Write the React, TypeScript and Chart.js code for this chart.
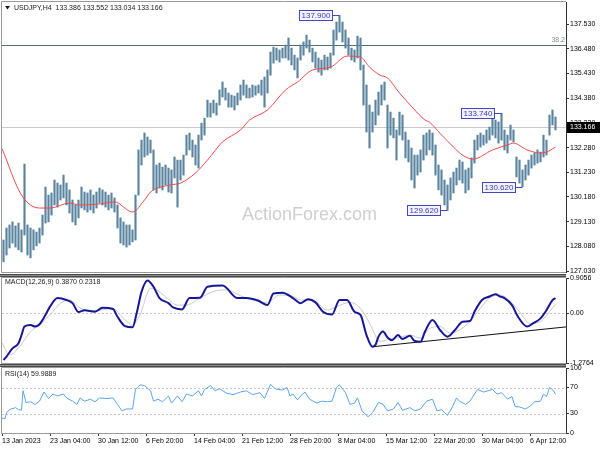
import React, { useEffect, useRef } from "react";
import { Chart, registerables } from "chart.js";

Chart.register(...registerables);

const FONT = "'Liberation Sans', Arial, sans-serif";

// ---------- price bars: each entry covers two H4 bars, x = bar number (2k+1) ----------
const HIGH = [
  128.35, 128.86, 128.99, 129.12, 128.95, 129.07, 128.78, 131.58, 128.99, 128.86,
  128.78, 128.69, 128.86, 129.41, 130.60, 130.26, 130.35, 130.90, 130.77, 130.69,
  131.11, 130.77, 130.48, 130.05, 129.84, 130.05, 130.60, 130.39, 130.35, 130.48,
  130.26, 130.39, 130.56, 130.48, 130.39, 130.26, 130.35, 130.14, 129.84, 129.29,
  129.12, 128.99, 128.99, 128.78, 130.26, 132.18, 132.60, 132.90, 132.73, 132.60,
  132.18, 131.54, 131.62, 131.45, 131.54, 131.41, 131.33, 131.88, 131.75, 131.75,
  131.96, 132.81, 132.90, 132.60, 132.39, 132.81, 133.32, 133.53, 134.30, 134.17,
  134.30, 134.17, 134.73, 135.07, 134.81, 134.60, 134.51, 134.47, 134.60, 134.94,
  135.15, 134.94, 134.81, 134.94, 134.90, 134.94, 135.15, 135.28, 135.58, 136.34,
  136.55, 136.51, 136.43, 136.51, 136.64, 136.94, 136.51, 136.21, 136.09, 136.64,
  136.77, 137.06, 136.85, 136.51, 136.34, 136.09, 136.00, 136.21, 136.13, 136.30,
  137.28, 137.62, 137.90, 137.62, 137.28, 136.94, 136.51, 136.43, 137.02, 136.94,
  135.79, 134.94, 134.09, 133.79, 134.30, 134.64, 134.94, 135.07, 134.09, 133.79,
  133.53, 133.03, 133.79, 133.66, 132.94, 132.60, 132.26, 131.96, 131.96, 132.18,
  132.81, 132.90, 133.03, 132.90, 132.39, 131.54, 131.33, 130.90, 130.69, 130.99,
  131.24, 131.41, 131.75, 131.67, 131.33, 131.41, 131.84, 132.60, 132.81, 132.90,
  132.81, 133.03, 133.15, 133.74, 133.45, 133.37, 133.74, 133.03, 132.81, 133.24,
  133.03, 131.88, 131.75, 131.33, 131.54, 131.75, 131.96, 132.05, 132.18, 132.09,
  132.81, 132.60, 133.66, 133.88, 133.58,
];
const LOW = [
  127.42, 127.71, 128.01, 128.22, 128.05, 127.93, 127.84, 128.56, 127.71, 127.59,
  127.93, 128.10, 128.22, 128.56, 129.07, 129.12, 129.41, 129.84, 129.75, 130.05,
  130.14, 129.84, 129.50, 129.12, 128.99, 129.29, 129.71, 129.63, 129.54, 129.63,
  129.50, 129.71, 129.92, 129.84, 129.75, 129.63, 129.71, 129.54, 128.86, 128.22,
  128.14, 128.05, 128.14, 128.27, 128.35, 130.26, 131.54, 131.88, 131.96, 132.05,
  130.48, 130.35, 130.56, 130.48, 130.69, 130.39, 130.35, 130.99, 129.75, 130.90,
  131.11, 131.96, 132.18, 131.88, 131.54, 131.41, 132.60, 132.81, 133.58, 133.58,
  133.75, 133.66, 134.09, 134.43, 134.30, 134.00, 134.00, 133.88, 134.09, 134.30,
  134.51, 134.39, 134.39, 134.43, 134.51, 134.60, 134.51, 134.00, 134.60, 135.36,
  135.87, 136.00, 135.92, 136.09, 136.09, 136.00, 135.79, 135.58, 135.24, 136.00,
  136.21, 136.51, 136.34, 135.92, 135.66, 135.49, 135.36, 135.58, 135.58, 135.66,
  136.21, 136.85, 137.19, 136.77, 136.51, 136.21, 136.00, 135.92, 136.09, 135.58,
  134.09, 132.94, 132.26, 132.94, 133.24, 133.66, 134.09, 134.30, 132.26, 132.81,
  132.69, 131.75, 132.81, 132.60, 131.84, 131.67, 130.90, 130.56, 131.11, 131.24,
  131.75, 131.96, 132.18, 131.96, 131.11, 130.48, 130.26, 129.84, 129.62, 130.05,
  130.35, 130.69, 130.90, 130.77, 130.35, 130.48, 130.99, 131.62, 132.18, 132.30,
  132.39, 132.47, 132.60, 132.81, 132.69, 132.47, 132.60, 132.18, 132.05, 132.60,
  132.52, 131.03, 130.77, 130.62, 130.90, 131.11, 131.41, 131.54, 131.62, 131.67,
  131.88, 131.96, 132.81, 133.24, 133.03,
];

// ---------- moving average (red) ----------
const MA_X = [0, 13, 25, 32, 45, 52, 65, 75, 87, 95, 99, 112, 119, 129, 137, 147, 159, 165, 177, 189, 197, 207, 219, 230, 239, 245, 252, 257, 265, 274, 282, 285, 292, 301, 307, 314, 327, 337, 341, 350, 359, 363, 369];
const MA_Y = [132.24, 130.26, 129.71, 129.71, 129.92, 129.84, 129.88, 129.97, 129.54, 130.05, 130.39, 130.69, 130.77, 131.20, 131.75, 132.52, 133.03, 133.45, 133.88, 134.73, 135.07, 135.58, 135.70, 136.17, 136.13, 135.70, 135.36, 135.24, 134.60, 133.96, 133.45, 133.36, 132.89, 132.30, 131.96, 131.79, 132.18, 132.39, 132.47, 132.18, 132.05, 132.09, 132.30];

// ---------- MACD ----------
const MACD_X = [1, 3, 7, 11, 13, 15, 19, 22, 25, 29, 32, 37, 43, 47, 51, 55, 62, 67, 74, 77, 82, 87, 90, 93, 97, 101, 105, 111, 114, 120, 125, 132, 137, 147, 157, 163, 171, 177, 181, 187, 194, 199, 204, 209, 214, 220, 225, 230, 235, 239, 243, 247, 249, 251, 254, 257, 260, 264, 267, 272, 275, 279, 282, 287, 292, 297, 302, 307, 312, 315, 320, 325, 329, 332, 335, 340, 344, 350, 354, 359, 363, 367, 369];
const MACD_MAIN = [-1.20, -1.11, -0.90, -0.77, -0.56, -0.34, -0.30, -0.34, -0.28, -0.04, 0.17, 0.39, 0.34, 0.26, 0.03, 0.08, 0.04, 0.14, 0.11, -0.09, -0.33, -0.36, 0.04, 0.55, 0.84, 0.68, 0.39, 0.26, 0.15, 0.10, 0.39, 0.40, 0.68, 0.71, 0.39, 0.39, 0.32, 0.21, 0.51, 0.53, 0.39, 0.26, 0.36, 0.28, 0.04, -0.03, 0.34, 0.34, 0.04, -0.04, -0.56, -0.86, -0.81, -0.60, -0.47, -0.62, -0.69, -0.56, -0.66, -0.58, -0.71, -0.73, -0.47, -0.17, -0.43, -0.60, -0.43, -0.22, -0.20, 0.04, 0.34, 0.43, 0.49, 0.43, 0.39, 0.21, -0.09, -0.34, -0.26, -0.13, 0.08, 0.34, 0.39];
const SIGNAL_X = [0, 5, 12, 19, 25, 32, 39, 45, 52, 59, 65, 74, 81, 87, 92, 99, 103, 110, 117, 123, 132, 141, 150, 159, 167, 177, 185, 194, 199, 207, 217, 223, 232, 239, 245, 252, 259, 265, 272, 279, 285, 292, 299, 305, 312, 319, 325, 332, 339, 345, 352, 359, 365, 369];
const SIGNAL = [-0.76, -1.07, -0.84, -0.47, -0.30, -0.04, 0.26, 0.34, 0.14, 0.06, 0.08, 0.12, -0.13, -0.30, -0.04, 0.64, 0.60, 0.39, 0.21, 0.21, 0.39, 0.56, 0.60, 0.45, 0.34, 0.28, 0.47, 0.43, 0.34, 0.34, 0.08, 0.17, 0.28, 0.12, -0.25, -0.72, -0.66, -0.62, -0.56, -0.64, -0.39, -0.34, -0.51, -0.43, -0.21, 0.13, 0.39, 0.47, 0.30, 0.04, -0.26, -0.21, 0.04, 0.23];
const TREND_X = [247, 376];
const TREND_Y = [-0.86, -0.35];

// ---------- RSI ----------
const RSI_X = [0, 2, 3, 5, 9, 11, 13, 14, 16, 19, 22, 25, 28, 31, 34, 37, 41, 43, 47, 50, 52, 55, 59, 62, 65, 70, 74, 77, 80, 83, 87, 89, 92, 95, 99, 101, 104, 107, 111, 113, 117, 120, 123, 127, 131, 133, 135, 139, 142, 145, 150, 154, 159, 163, 167, 172, 175, 179, 182, 187, 190, 192, 194, 197, 199, 202, 205, 210, 213, 217, 220, 223, 225, 229, 232, 235, 237, 240, 244, 247, 251, 254, 257, 261, 264, 267, 272, 275, 279, 283, 287, 290, 293, 297, 300, 303, 305, 309, 312, 315, 317, 321, 324, 327, 330, 333, 337, 340, 342, 345, 349, 352, 355, 359, 361, 363, 365, 367, 369];
const RSI_Y = [23, 22, 31, 36, 39, 36, 35, 65, 47, 48, 44, 49, 63, 53, 60, 57, 60, 54, 49, 44, 54, 49, 52, 48, 54, 53, 54, 44, 34, 37, 37, 67, 74, 73, 65, 49, 52, 48, 57, 46, 57, 48, 60, 57, 65, 57, 67, 73, 65, 68, 61, 59, 63, 65, 59, 62, 53, 75, 68, 66, 70, 57, 60, 51, 57, 63, 52, 46, 49, 48, 49, 70, 74, 62, 44, 46, 54, 34, 25, 31, 47, 44, 34, 37, 47, 35, 39, 34, 37, 49, 52, 34, 36, 27, 39, 54, 49, 44, 49, 60, 67, 63, 65, 67, 60, 62, 52, 56, 41, 40, 37, 41, 48, 49, 60, 56, 70, 67, 60];

// ---------- axes, labels ----------
const X_MIN = 0;
const X_MAX = 376;
const PRICE_MIN = 126.99;
const PRICE_MAX = 138.47;
const PRICE_TICKS = [137.53, 136.48, 135.43, 134.38, 133.33, 132.28, 131.23, 130.18, 129.13, 128.08, 127.03];
const MACD_MIN = -1.2764;
const MACD_MAX = 0.9056;
const MACD_TICKS = [0.9056, 0, -1.2764];
const RSI_TICKS = [100, 70, 30, 0];
const RSI_LEVELS = [70, 30];
const TIME_IDX = [0, 32, 64, 96, 128, 160, 192, 224, 256, 288, 320, 352];
const TIME_LABELS = ["13 Jan 2023", "23 Jan 04:00", "30 Jan 12:00", "6 Feb 20:00", "14 Feb 04:00", "21 Feb 12:00", "28 Feb 20:00", "8 Mar 04:00", "15 Mar 12:00", "22 Mar 20:00", "30 Mar 04:00", "6 Apr 12:00"];

const TITLE = "USDJPY,H4  133.386 133.552 133.034 133.166";
const MACD_TITLE = "MACD(12,26,9) 0.3870 0.2318";
const RSI_TITLE = "RSI(14) 59.9889";
const WATERMARK = "ActionForex.com";
const LAST_PRICE = 133.166;
const FIB_LEVEL = 136.66;
const FIB_LABEL = "38.2";
const ANN_TEXT = ["137.900", "133.740", "129.620", "130.620"];
const ANN_IDX = [225, 333, 297, 347];
const ANN_PRICE = [137.9, 133.74, 129.62, 130.62];

const pts = (xs: number[], ys: number[]) => xs.slice(0, Math.min(xs.length, ys.length)).map((x, i) => ({ x, y: ys[i] }));

function yAxis(min: number, max: number, ticks: number[], fmt: (v: number) => string) {
  return {
    position: "right",
    min,
    max,
    afterBuildTicks: (s: any) => {
      s.ticks = ticks.map((v) => ({ value: v }));
    },
    afterFit: (s: any) => {
      s.width = 34;
      s.paddingTop = 0;
      s.paddingBottom = 0;
    },
    ticks: { callback: (v: any) => fmt(Number(v)), font: { size: 7, family: FONT }, color: "#000", padding: 1 },
    grid: { drawOnChartArea: false, drawTicks: true, tickLength: 3, color: "#333", lineWidth: 1 },
    border: { display: true, color: "#333", width: 1 },
  };
}

const xHidden = { type: "linear", min: X_MIN, max: X_MAX, offset: false, display: false };

function frame(ctx: CanvasRenderingContext2D, a: any) {
  ctx.save();
  ctx.strokeStyle = "#9a9a9a";
  ctx.lineWidth = 1;
  ctx.beginPath();
  ctx.moveTo(a.left - 0.5, a.bottom + 0.5);
  ctx.lineTo(a.left - 0.5, a.top - 0.5);
  ctx.lineTo(a.right, a.top - 0.5);
  ctx.moveTo(a.left - 0.5, a.bottom + 0.5);
  ctx.lineTo(a.right, a.bottom + 0.5);
  ctx.stroke();
  ctx.restore();
}

function separator(ctx: CanvasRenderingContext2D, y0: number, right: number) {
  ctx.save();
  ctx.fillStyle = "#4a4a4a";
  ctx.fillRect(0, y0, right, 3);
  ctx.fillStyle = "#8c8c8c";
  ctx.fillRect(0, y0 + 1, right, 1);
  ctx.restore();
}

function title(ctx: CanvasRenderingContext2D, text: string, x: number, y: number) {
  ctx.save();
  ctx.font = `7px ${FONT}`;
  ctx.fillStyle = "#1a1a1a";
  ctx.textAlign = "left";
  ctx.textBaseline = "middle";
  ctx.fillText(text, x, y);
  ctx.restore();
}

function hline(ctx: CanvasRenderingContext2D, a: any, py: number, color: string, dash: number[]) {
  ctx.save();
  ctx.strokeStyle = color;
  ctx.lineWidth = 1;
  ctx.setLineDash(dash);
  const y = Math.round(py) + 0.5;
  ctx.beginPath();
  ctx.moveTo(a.left, y);
  ctx.lineTo(a.right, y);
  ctx.stroke();
  ctx.restore();
}

const mainPlugin = {
  id: "mainDeco",
  beforeDatasetsDraw(chart: any) {
    const { ctx, chartArea: a, scales } = chart;
    const y = scales.y;
    ctx.save();
    ctx.font = `18px ${FONT}`;
    ctx.fillStyle = "#cfcfcf";
    ctx.textAlign = "left";
    ctx.textBaseline = "middle";
    ctx.fillText(WATERMARK, 242, 215);
    ctx.restore();
    hline(ctx, a, y.getPixelForValue(LAST_PRICE), "#cacaca", []);
    hline(ctx, a, y.getPixelForValue(FIB_LEVEL), "#56706c", []);
  },
  afterDraw(chart: any) {
    const { ctx, chartArea: a, scales } = chart;
    const x = scales.x;
    const y = scales.y;
    frame(ctx, a);
    ctx.save();
    ctx.fillStyle = "#1a1a1a";
    ctx.beginPath();
    ctx.moveTo(5, 6);
    ctx.lineTo(10, 6);
    ctx.lineTo(7.5, 9.5);
    ctx.closePath();
    ctx.fill();
    ctx.restore();
    title(ctx, TITLE, 14, 8);
    ctx.save();
    ctx.font = `7px ${FONT}`;
    ctx.fillStyle = "#8a8a8a";
    ctx.textAlign = "right";
    ctx.textBaseline = "bottom";
    ctx.fillText(FIB_LABEL, a.right - 1, y.getPixelForValue(FIB_LEVEL) - 1);
    ctx.restore();
    ctx.save();
    ctx.font = `8px ${FONT}`;
    ctx.lineWidth = 1;
    ANN_TEXT.forEach((t, i) => {
      const px = x.getPixelForValue(ANN_IDX[i]);
      const py = Math.round(y.getPixelForValue(ANN_PRICE[i])) + 0.5;
      const w = Math.round(ctx.measureText(t).width) + 4;
      const bx = Math.round(px - 8 - w) + 0.5;
      ctx.strokeStyle = "#4646c0";
      ctx.beginPath();
      ctx.moveTo(px, py);
      ctx.lineTo(px - 8, py);
      ctx.stroke();
      ctx.fillStyle = "#f3f3ff";
      ctx.fillRect(bx, py - 5, w, 10);
      ctx.strokeRect(bx, py - 5, w, 10);
      ctx.fillStyle = "#3c3cb4";
      ctx.textAlign = "left";
      ctx.textBaseline = "middle";
      ctx.fillText(t, bx + 2, py + 0.5);
    });
    ctx.restore();
    const ly = Math.round(y.getPixelForValue(LAST_PRICE));
    ctx.save();
    ctx.fillStyle = "#000";
    ctx.fillRect(a.right + 1, ly - 5, 34, 11);
    ctx.fillStyle = "#fff";
    ctx.font = `7px ${FONT}`;
    ctx.textAlign = "left";
    ctx.textBaseline = "middle";
    ctx.fillText(LAST_PRICE.toFixed(3), a.right + 4, ly + 0.5);
    ctx.restore();
  },
};

const macdPlugin = {
  id: "macdDeco",
  beforeDatasetsDraw(chart: any) {
    const { ctx, chartArea: a, scales } = chart;
    hline(ctx, a, scales.y.getPixelForValue(0), "#c4c4c4", [2, 2]);
  },
  afterDraw(chart: any) {
    const { ctx, chartArea: a } = chart;
    frame(ctx, a);
    separator(ctx, 2, a.right);
    title(ctx, MACD_TITLE, 5, a.top + 4);
  },
};

const rsiPlugin = {
  id: "rsiDeco",
  beforeDatasetsDraw(chart: any) {
    const { ctx, chartArea: a, scales } = chart;
    RSI_LEVELS.forEach((lv) => hline(ctx, a, scales.y.getPixelForValue(lv), "#c4c4c4", [2, 2]));
  },
  afterDraw(chart: any) {
    const { ctx, chartArea: a } = chart;
    frame(ctx, a);
    separator(ctx, 1, a.right);
    title(ctx, RSI_TITLE, 5, a.top + 6);
  },
};

function buildMain(canvas: HTMLCanvasElement) {
  const bars = HIGH.map((h, k) => ({ x: 2 * k + 1, y: [LOW[k], h] }));
  return new Chart(canvas, {
    type: "bar",
    data: {
      datasets: [
        {
          type: "line",
          data: pts(MA_X, MA_Y),
          borderColor: "#f04a4a",
          borderWidth: 1,
          pointRadius: 0,
          cubicInterpolationMode: "monotone",
          order: 0,
        } as any,
        {
          type: "bar",
          data: bars as any,
          backgroundColor: "#5a84a0",
          borderWidth: 0,
          barThickness: 1.5,
          order: 1,
        } as any,
      ],
    },
    options: {
      responsive: false,
      animation: false,
      devicePixelRatio: 1,
      layout: { padding: { left: 2, top: 2, right: 0, bottom: 8 }, autoPadding: false },
      plugins: { legend: { display: false }, tooltip: { enabled: false } },
      scales: {
        x: xHidden as any,
        y: yAxis(PRICE_MIN, PRICE_MAX, PRICE_TICKS, (v) => v.toFixed(3)) as any,
      },
    } as any,
    plugins: [mainPlugin],
  });
}

function buildMacd(canvas: HTMLCanvasElement) {
  return new Chart(canvas, {
    type: "line",
    data: {
      datasets: [
        { data: pts(MACD_X, MACD_MAIN), borderColor: "#16169a", borderWidth: 2, pointRadius: 0, cubicInterpolationMode: "monotone", order: 0 },
        { data: pts(SIGNAL_X, SIGNAL), borderColor: "#c8c8c8", borderWidth: 1, pointRadius: 0, cubicInterpolationMode: "monotone", order: 2 },
        { data: pts(TREND_X, TREND_Y), borderColor: "#111", borderWidth: 1, pointRadius: 0, order: 1 },
      ] as any,
    },
    options: {
      responsive: false,
      animation: false,
      devicePixelRatio: 1,
      layout: { padding: { left: 2, top: 6, right: 0, bottom: 5 }, autoPadding: false },
      plugins: { legend: { display: false }, tooltip: { enabled: false } },
      scales: {
        x: xHidden as any,
        y: yAxis(MACD_MIN, MACD_MAX, MACD_TICKS, (v) => (v === 0 ? "0.00" : v.toFixed(4))) as any,
      },
    } as any,
    plugins: [macdPlugin],
  });
}

function buildRsi(canvas: HTMLCanvasElement) {
  return new Chart(canvas, {
    type: "line",
    data: {
      datasets: [
        { data: pts(RSI_X, RSI_Y), borderColor: "#5aa6f2", borderWidth: 1, pointRadius: 0, tension: 0 },
      ] as any,
    },
    options: {
      responsive: false,
      animation: false,
      devicePixelRatio: 1,
      layout: { padding: { left: 2, top: 5, right: 0, bottom: 0 }, autoPadding: false },
      plugins: { legend: { display: false }, tooltip: { enabled: false } },
      scales: {
        x: {
          type: "linear",
          position: "bottom",
          min: X_MIN,
          max: X_MAX,
          offset: false,
          afterBuildTicks: (s: any) => {
            s.ticks = TIME_IDX.map((v) => ({ value: v }));
          },
          afterFit: (s: any) => {
            s.height = 17;
            s.paddingLeft = 0;
            s.paddingRight = 0;
          },
          ticks: {
            autoSkip: false,
            maxRotation: 0,
            minRotation: 0,
            align: "start",
            padding: 1,
            font: { size: 7, family: FONT },
            color: "#000",
            callback: (v: any) => {
              const i = TIME_IDX.indexOf(Number(v));
              return i >= 0 ? TIME_LABELS[i] : "";
            },
          },
          grid: { drawOnChartArea: false, drawTicks: true, tickLength: 3, color: "#333" },
          border: { display: true, color: "#333" },
        },
        y: yAxis(0, 100, RSI_TICKS, (v) => String(v)) as any,
      },
    } as any,
    plugins: [rsiPlugin],
  });
}

export default function App() {
  const mainRef = useRef<HTMLCanvasElement>(null);
  const macdRef = useRef<HTMLCanvasElement>(null);
  const rsiRef = useRef<HTMLCanvasElement>(null);

  useEffect(() => {
    Chart.defaults.font.family = FONT;
    const charts = [buildMain(mainRef.current!), buildMacd(macdRef.current!), buildRsi(rsiRef.current!)];
    return () => charts.forEach((c) => c.destroy());
  }, []);

  const abs = (top: number, h: number): React.CSSProperties => ({ position: "absolute", left: 0, top, width: 600, height: h });

  return (
    <div style={{ position: "absolute", left: 0, top: 0, width: 600, height: 450, background: "#fff", overflow: "hidden" }}>
      <canvas ref={mainRef} width={600} height={280} style={abs(0, 280)} />
      <canvas ref={macdRef} width={600} height={96} style={abs(272, 96)} />
      <canvas ref={rsiRef} width={600} height={87} style={abs(363, 87)} />
    </div>
  );
}
